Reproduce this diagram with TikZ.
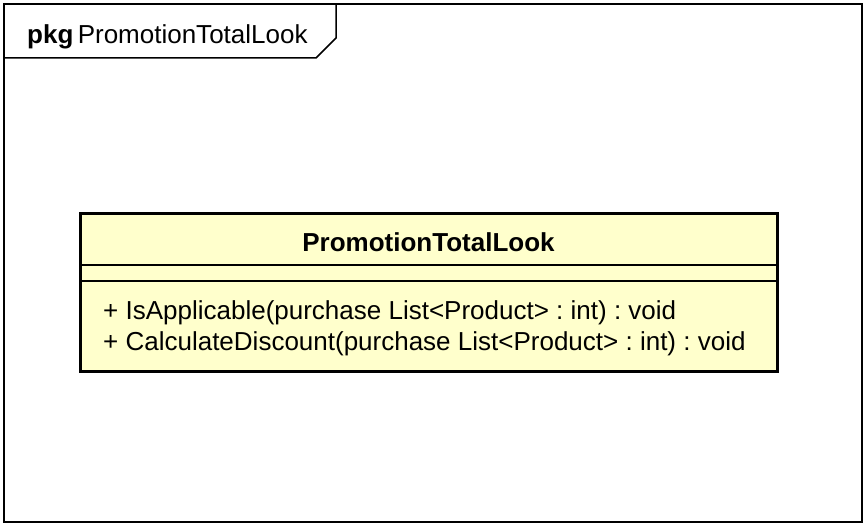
\documentclass[tikz,border=0pt]{standalone}
\usepackage{fontspec}
\setmainfont{Liberation Sans}
\frenchspacing
\definecolor{umlfill}{HTML}{FFFFCC}
\tikzset{
  framebox/.style={draw=black, line width=1.5pt, inner sep=0pt},
  classbox/.style={draw=black, line width=3pt, fill=umlfill, inner sep=0pt},
  sepline/.style={draw=black, line width=1.6pt},
  umltext/.style={inner sep=0pt, font=\fontsize{26}{30}\selectfont}
}
\begin{document}
\begin{tikzpicture}[x=1pt, y=-1pt]
  \useasboundingbox (0,0) rectangle (867,527);
  % package frame
  \node[framebox, minimum width=858pt, minimum height=518pt] (pkgframe) at (433,263) {};
  \coordinate (tabA) at (4,58);
  \coordinate (tabB) at (316,58);
  \coordinate (tabC) at (336,38);
  \coordinate (tabD) at (336,4);
  \draw[line width=1.5pt] (tabA) -- (tabB) -- (tabC) -- (tabD);
  \node[umltext, anchor=base west] (pkgname) at (27,44) {\textbf{pkg}\,PromotionTotalLook};
  % class
  \node[classbox, minimum width=697pt, minimum height=158pt] (cls) at (428.5,292) {};
  \coordinate (sepA) at (80,265);
  \coordinate (sepB) at (80,281);
  \draw[sepline] (sepA) -- (sepA -| cls.east);
  \draw[sepline] (sepB) -- (sepB -| cls.east);
  \node[umltext, anchor=base, font=\fontsize{26}{30}\selectfont\bfseries] (clsname) at (428.5,251) {PromotionTotalLook};
  \node[umltext, anchor=base west] (opA) at (103,319) {+ IsApplicable(purchase List<Product> : int) : void};
  \node[umltext, anchor=base west] (opB) at (103,350) {+ CalculateDiscount(purchase List<Product> : int) : void};
\end{tikzpicture}
\end{document}
